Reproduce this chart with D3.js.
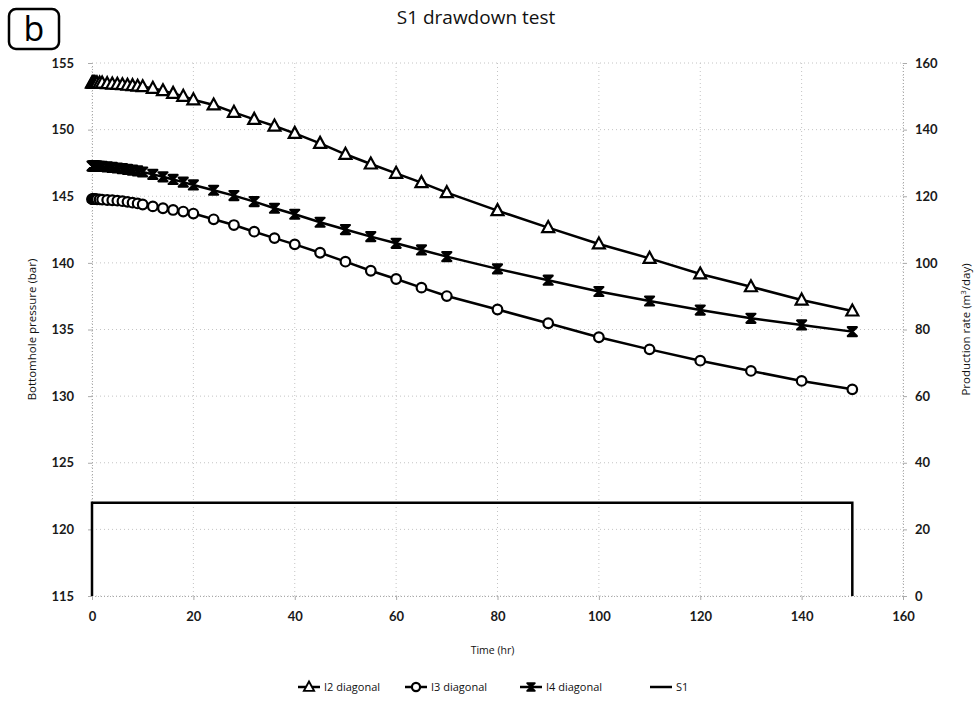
<!DOCTYPE html>
<html><head><meta charset="utf-8">
<script src="https://cdn.jsdelivr.net/npm/d3@7"></script>
<style>
html,body{margin:0;padding:0;background:#fff;}
svg{display:block;font-family:Lato,"Open Sans",sans-serif;}
</style></head>
<body>
<svg id="chart" width="974" height="703"></svg>
<script>
// ---- data ----
const time = [0,0.1,0.2,0.3,0.4,0.5,0.6,0.8,1,1.5,2,3,4,5,6,7,8,9,10,12,14,16,18,20,24,28,32,36,40,45,50,55,60,65,70,80,90,100,110,120,130,140,150];
const i2Diagonal = [153.5,153.5,153.5,153.5,153.5,153.5,153.5,153.5,153.5,153.5,153.5,153.45,153.42,153.4,153.37,153.33,153.3,153.26,153.22,153.1,152.92,152.72,152.5,152.24,151.85,151.3,150.77,150.27,149.72,148.97,148.15,147.42,146.72,146.02,145.27,143.92,142.65,141.42,140.34,139.17,138.21,137.21,136.39];
const i3Diagonal = [144.78,144.78,144.78,144.78,144.78,144.78,144.78,144.78,144.77,144.76,144.75,144.72,144.7,144.67,144.63,144.58,144.52,144.46,144.38,144.24,144.1,143.97,143.85,143.7,143.27,142.84,142.34,141.86,141.39,140.76,140.09,139.41,138.79,138.14,137.51,136.5,135.47,134.42,133.51,132.66,131.89,131.14,130.51];
const i4Diagonal = [147.27,147.27,147.27,147.27,147.27,147.27,147.27,147.26,147.26,147.25,147.24,147.2,147.16,147.12,147.07,147.02,146.96,146.9,146.82,146.64,146.46,146.26,146.06,145.85,145.45,145.05,144.6,144.1,143.65,143.05,142.5,141.97,141.47,140.97,140.47,139.55,138.7,137.85,137.14,136.46,135.84,135.34,134.84];
const s1Time = [0,0,150,150];
const s1Rate = [0,28,28,0];
const xTicks = [0,20,40,60,80,100,120,140,160];
const yLeftTicks = [115,120,125,130,135,140,145,150,155];
const yRightTicks = [0,20,40,60,80,100,120,140,160];
const seriesNames = ["I2 diagonal","I3 diagonal","I4 diagonal","S1"];

// ---- layout ----
const svg = d3.select("#chart");
const L = 92, R = 903, T = 63, B = 596;
const x = d3.scaleLinear().domain([0,160]).range([L,R]);
const yL = d3.scaleLinear().domain([115,155]).range([B,T]);
const yR = d3.scaleLinear().domain([0,160]).range([B,T]);
const gridColor = "#c4c4c4";

// gridlines
const grid = svg.append("g");
grid.selectAll("line.h").data(yLeftTicks).join("line")
  .attr("x1",L).attr("x2",R).attr("y1",d=>yL(d)).attr("y2",d=>yL(d))
  .attr("stroke",gridColor).attr("stroke-width",1).attr("stroke-dasharray","1,3");
grid.selectAll("line.v").data(xTicks).join("line")
  .attr("y1",T).attr("y2",B).attr("x1",d=>x(d)).attr("x2",d=>x(d))
  .attr("stroke",gridColor).attr("stroke-width",1).attr("stroke-dasharray","1,3");

// axes
const axL = d3.axisLeft(yL).tickValues(yLeftTicks).tickSize(4).tickPadding(14);
const axR = d3.axisRight(yR).tickValues(yRightTicks).tickSize(4).tickPadding(8);
const axB = d3.axisBottom(x).tickValues(xTicks).tickSize(4).tickPadding(12);
function styleAxis(g){
  g.select(".domain").attr("stroke","#aaa").attr("stroke-dasharray","1,2");
  g.selectAll(".tick line").attr("stroke","#aaa");
  g.selectAll(".tick text").attr("fill","#1a1a1a").style("font-size","13px").style("font-weight","bold").style("font-family","Lato,sans-serif");
}
svg.append("g").attr("transform",`translate(${L},0)`).call(axL).call(styleAxis);
svg.append("g").attr("transform",`translate(${R},0)`).call(axR).call(styleAxis);
svg.append("g").attr("transform",`translate(0,${B})`).call(axB).call(styleAxis);

// S1 rate line
const s1 = s1Time.map((t,i)=>[t,s1Rate[i]]);
svg.append("path").datum(s1)
  .attr("d",d3.line().x(d=>x(d[0])).y(d=>yR(d[1])))
  .attr("fill","none").attr("stroke","#000").attr("stroke-width",2.5);

// marker generators
const triPath = "M0,-6.5 L6,4.5 L-6,4.5 Z";
const hourPath = "M-4.5,-4.5 H4.5 L-4.5,4.5 H4.5 Z";
function drawMarkers(g, xy, type, s){
  s = s || 1;
  if(type==="tri"){
    g.selectAll("path.m").data(xy).join("path").attr("class","m")
      .attr("d",triPath).attr("transform",d=>`translate(${d[0]},${d[1]}) scale(${s})`)
      .attr("fill","#fff").attr("stroke","#000").attr("stroke-width",2.2);
  } else if(type==="circ"){
    g.selectAll("circle.m").data(xy).join("circle").attr("class","m")
      .attr("cx",d=>d[0]).attr("cy",d=>d[1]).attr("r",4.8*s)
      .attr("fill","#fff").attr("stroke","#000").attr("stroke-width",2.2);
  } else if(type==="hour"){
    g.selectAll("path.m").data(xy).join("path").attr("class","m")
      .attr("d",hourPath).attr("transform",d=>`translate(${d[0]},${d[1]}) scale(${s})`)
      .attr("fill","#000").attr("stroke","#000").attr("stroke-width",2.2).attr("stroke-linejoin","round");
  }
}
function drawSeries(vals, type){
  const pts = time.map((t,i)=>[t,vals[i]]);
  const g = svg.append("g");
  g.append("path").datum(pts)
    .attr("d",d3.line().x(d=>x(d[0])).y(d=>yL(d[1])))
    .attr("fill","none").attr("stroke","#000").attr("stroke-width",2.5);
  drawMarkers(g, pts.map(d=>[x(d[0]),yL(d[1])]), type, 1);
}
drawSeries(i2Diagonal,"tri");
drawSeries(i3Diagonal,"circ");
drawSeries(i4Diagonal,"hour");

// title & labels
svg.append("text").attr("x",476).attr("y",24).attr("text-anchor","middle")
  .style("font-size","19px").style("font-family","'Open Sans',sans-serif").attr("fill","#111").text("S1 drawdown test");
svg.append("text").attr("transform",`translate(36,${(T+B)/2}) rotate(-90)`).attr("text-anchor","middle")
  .style("font-size","11.5px").style("font-family","'Open Sans',sans-serif").attr("fill","#111").text("Bottomhole pressure (bar)");
const rt = svg.append("text").attr("transform",`translate(970,${(T+B)/2}) rotate(-90)`).attr("text-anchor","middle")
  .style("font-size","11.5px").style("font-family","'Open Sans',sans-serif").attr("fill","#111");
rt.append("tspan").text("Production rate (m");
rt.append("tspan").attr("dy",-4).style("font-size","8px").text("3");
rt.append("tspan").attr("dy",4).text("/day)");
svg.append("text").attr("x",(L+R)/2-5).attr("y",654).attr("text-anchor","middle")
  .style("font-size","10.5px").style("font-family","'Open Sans',sans-serif").attr("fill","#111").text("Time (hr)");

// "b" panel label
svg.append("rect").attr("x",9).attr("y",9).attr("width",50).attr("height",40).attr("rx",7)
  .attr("fill","none").attr("stroke","#000").attr("stroke-width",2.5);
svg.append("text").attr("x",34).attr("y",41).attr("text-anchor","middle")
  .style("font-size","34px").style("font-family","'Open Sans',sans-serif").attr("fill","#000").text("b");

// legend
const legX = [298,405,520,650];
const legTypes = ["tri","circ","hour","none"];
const legY = 687;
seriesNames.forEach((name,i)=>{
  const g = svg.append("g");
  const x0 = legX[i];
  g.append("line").attr("x1",x0).attr("x2",x0+22).attr("y1",legY).attr("y2",legY)
    .attr("stroke","#000").attr("stroke-width",2.5);
  if(legTypes[i]!=="none"){
    drawMarkers(g.append("g"), [[x0+11,legY]], legTypes[i], 0.85);
  }
  g.append("text").attr("x",x0+26).attr("y",legY+4)
    .style("font-size","11px").style("font-family","'Open Sans',sans-serif").attr("fill","#111").text(name);
});
</script>
</body></html>
